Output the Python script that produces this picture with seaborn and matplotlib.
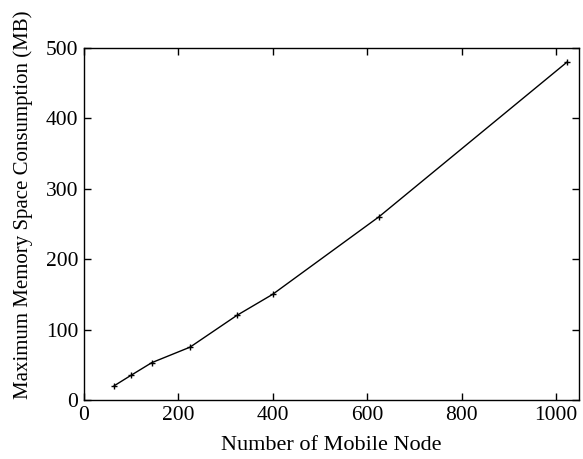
import matplotlib
matplotlib.use("Agg")
import matplotlib.pyplot as plt
import seaborn as sns
import pandas as pd

# number of mobile nodes vs. max memory consumption (MB)
nodes = [64, 100, 144, 225, 324, 400, 625, 1024]
memory_mb = [20, 35, 53, 75, 120, 150, 260, 480]

x_ticks = [0, 200, 400, 600, 800, 1000]
y_ticks = [0, 100, 200, 300, 400, 500]

sns.set_style("ticks")
plt.rcParams['font.family'] = ['Liberation Serif', 'DejaVu Serif']
plt.rcParams['text.color'] = 'black'
plt.rcParams['axes.labelcolor'] = 'black'

df = pd.DataFrame({"nodes": nodes, "memory": memory_mb})

fig = plt.figure(figsize=(5.83, 4.59), dpi=100)
ax = fig.add_axes([0.1436, 0.1285, 0.849, 0.7675])

sns.lineplot(data=df, x="nodes", y="memory", ax=ax, color="black",
             linewidth=1.0, marker="+", markersize=5, markeredgewidth=1.0,
             markeredgecolor="black")

ax.set_xlim(0, 1048)
ax.set_ylim(0, 500)
ax.set_xticks(x_ticks)
ax.set_yticks(y_ticks)
ax.tick_params(direction="in", top=True, right=True, length=5, width=1,
               labelsize=15.5, colors="black", pad=4)
for s in ax.spines.values():
    s.set_visible(True)
    s.set_color("black")
    s.set_linewidth(1.0)

ax.set_xlabel("Number of Mobile Node", fontsize=16, labelpad=8)
ax.set_ylabel("Maximum Memory Space Consumption (MB)", fontsize=15)
ax.yaxis.set_label_coords(-0.102, 0.553)

fig.savefig("out.png", dpi=100)
plt.close(fig)
